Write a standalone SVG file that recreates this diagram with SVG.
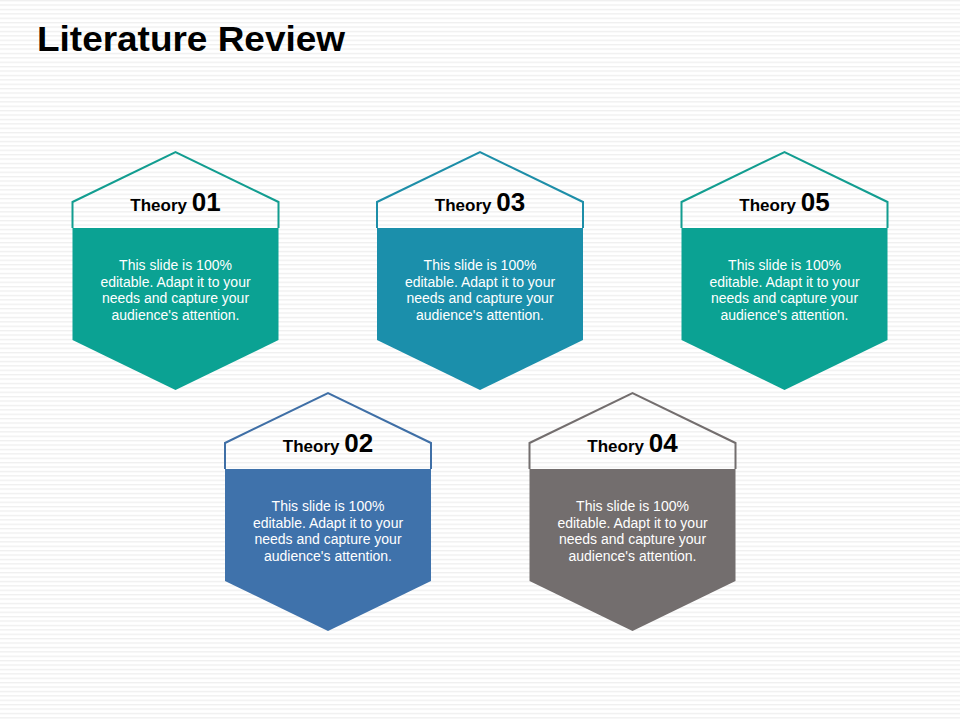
<svg xmlns="http://www.w3.org/2000/svg" width="960" height="720" viewBox="0 0 960 720">
<defs>
<pattern id="stripes" width="8" height="4.4" patternUnits="userSpaceOnUse">
<rect width="8" height="4.4" fill="#ffffff"/>
<rect y="0" width="8" height="1.3" fill="#efefef"/>
</pattern>
<path id="outline" d="M-103,76 L-103,50 L0,0 L103,50 L103,76"/>
<path id="body" d="M-103,76 L103,76 L103,188 L0,238 L-103,188 Z"/>
</defs>
<style>
.title{font-family:"Liberation Sans",Arial,sans-serif;font-weight:bold;font-size:35px;fill:#000}
.head{font-family:"Liberation Sans",Arial,sans-serif;font-weight:bold;fill:#000;text-anchor:middle}
.t1{font-size:17px}
.t2{font-size:26px}
.body{font-family:"Liberation Sans",Arial,sans-serif;font-size:14px;fill:#ffffff;text-anchor:middle}
.ol{fill:none;stroke-width:2}
</style>
<rect width="960" height="720" fill="url(#stripes)"/>
<text class="title" x="37" y="51" textLength="308" lengthAdjust="spacingAndGlyphs">Literature Review</text>

<g id="connectors"></g>

<g id="theory01" transform="translate(175.5,152)">
<use href="#outline" class="ol" stroke="#129d90"/>
<use href="#body" fill="#0ba293"/>
<text class="head" x="0" y="59"><tspan class="t1">Theory </tspan><tspan class="t2">01</tspan></text>
<text class="body" x="0" y="118">This slide is 100%</text>
<text class="body" x="0" y="134.5">editable. Adapt it to your</text>
<text class="body" x="0" y="151">needs and capture your</text>
<text class="body" x="0" y="167.5">audience's attention.</text>
</g>

<g id="theory03" transform="translate(480,152)">
<use href="#outline" class="ol" stroke="#1d8ea8"/>
<use href="#body" fill="#1b8fab"/>
<text class="head" x="0" y="59"><tspan class="t1">Theory </tspan><tspan class="t2">03</tspan></text>
<text class="body" x="0" y="118">This slide is 100%</text>
<text class="body" x="0" y="134.5">editable. Adapt it to your</text>
<text class="body" x="0" y="151">needs and capture your</text>
<text class="body" x="0" y="167.5">audience's attention.</text>
</g>

<g id="theory05" transform="translate(784.5,152)">
<use href="#outline" class="ol" stroke="#129d90"/>
<use href="#body" fill="#0ba293"/>
<text class="head" x="0" y="59"><tspan class="t1">Theory </tspan><tspan class="t2">05</tspan></text>
<text class="body" x="0" y="118">This slide is 100%</text>
<text class="body" x="0" y="134.5">editable. Adapt it to your</text>
<text class="body" x="0" y="151">needs and capture your</text>
<text class="body" x="0" y="167.5">audience's attention.</text>
</g>

<g id="theory02" transform="translate(328,393)">
<use href="#outline" class="ol" stroke="#3f6fa6"/>
<use href="#body" fill="#3f72ab"/>
<text class="head" x="0" y="59"><tspan class="t1">Theory </tspan><tspan class="t2">02</tspan></text>
<text class="body" x="0" y="118">This slide is 100%</text>
<text class="body" x="0" y="134.5">editable. Adapt it to your</text>
<text class="body" x="0" y="151">needs and capture your</text>
<text class="body" x="0" y="167.5">audience's attention.</text>
</g>

<g id="theory04" transform="translate(632.5,393)">
<use href="#outline" class="ol" stroke="#736e6e"/>
<use href="#body" fill="#736e6e"/>
<text class="head" x="0" y="59"><tspan class="t1">Theory </tspan><tspan class="t2">04</tspan></text>
<text class="body" x="0" y="118">This slide is 100%</text>
<text class="body" x="0" y="134.5">editable. Adapt it to your</text>
<text class="body" x="0" y="151">needs and capture your</text>
<text class="body" x="0" y="167.5">audience's attention.</text>
</g>
</svg>
